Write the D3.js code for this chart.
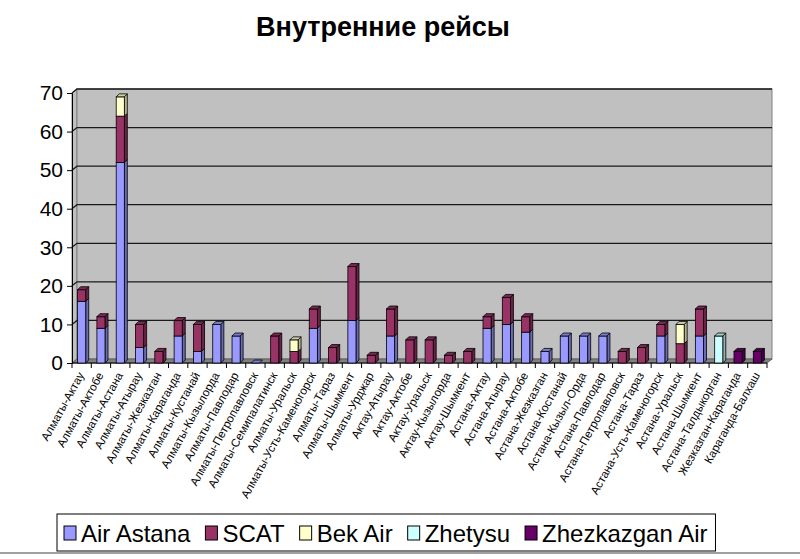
<!DOCTYPE html>
<html>
<head>
<meta charset="utf-8">
<script src="https://cdn.jsdelivr.net/npm/d3@7"></script>
<style>
  html, body { margin: 0; padding: 0; background: #fff; }
  svg { display: block; font-family: "Liberation Sans", Arial, sans-serif; }
</style>
</head>
<body>
<svg id="chart" width="800" height="559"></svg>
<script>
const title = "Внутренние рейсы";
const categories = [
  "Алматы-Актау","Алматы-Актобе","Алматы-Астана","Алматы-Атырау","Алматы-Жезказган",
  "Алматы-Караганда","Алматы-Кустанай","Алматы-Кызылорда","Алматы-Павлодар","Алматы-Петропавловск",
  "Алматы-Семипалатинск","Алматы-Уральск","Алматы-Усть-Каменогорск","Алматы-Тараз","Алматы-Шымкент",
  "Алматы-Урджар","Актау-Атырау","Актау-Актобе","Актау-Уральск","Актау-Кызылорда",
  "Актау-Шымкент","Астана-Актау","Астана-Атырау","Астана-Актобе","Астана-Жезказган",
  "Астана-Костанай","Астана-Кызыл-Орда","Астана-Павлодар","Астана-Петропавловск","Астана-Тараз",
  "Астана-Усть-Каменогорск","Астана-Уральск","Астана-Шымкент","Астана-Талдыкорган","Жезказган-Караганда",
  "Караганда-Балхаш"
];
const seriesNames = ["Air Astana","SCAT","Bek Air","Zhetysu","Zhezkazgan Air"];
const airAstana  = [16,9,52,4,0,7,3,10,7,0,0,0,9,0,11,0,7,0,0,0,0,9,10,8,3,7,7,7,0,0,7,0,7,0,0,0];
const scat       = [3,3,12,6,3,4,7,0,0,0,7,3,5,4,14,2,7,6,6,2,3,3,7,4,0,0,0,0,3,4,3,5,7,0,0,0];
const bekAir     = [0,0,5,0,0,0,0,0,0,0,0,3,0,0,0,0,0,0,0,0,0,0,0,0,0,0,0,0,0,0,0,5,0,0,0,0];
const zhetysu    = [0,0,0,0,0,0,0,0,0,0,0,0,0,0,0,0,0,0,0,0,0,0,0,0,0,0,0,0,0,0,0,0,0,7,0,0];
const zhezkazgan = [0,0,0,0,0,0,0,0,0,0,0,0,0,0,0,0,0,0,0,0,0,0,0,0,0,0,0,0,0,0,0,0,0,0,3,3];
const yTicks = [0,10,20,30,40,50,60,70];

const colors = ["#9999ff","#993366","#ffffcc","#ccffff","#660066"];
const seriesValues = [airAstana, scat, bekAir, zhetysu, zhezkazgan];

(function draw() {
const table = categories.map((c, i) => {
  const row = { cat: c };
  seriesNames.forEach((s, k) => row[s] = seriesValues[k][i]);
  return row;
});
const stacked = d3.stack().keys(seriesNames)(table);

const svg = d3.select("#chart");
const pL = 72, pR = 767, pB = 363, pT = 93;
const wdx = 5, wdy = -4;   // wall depth
const bdx = 3, bdy = -3;   // bar depth

const x = d3.scaleBand().domain(categories).range([pL, pR]).paddingInner(0.58).paddingOuter(0.29);
const y = d3.scaleLinear().domain([0, 70]).range([pB, pT]);

// title
svg.append("text").attr("x", 383).attr("y", 36).attr("text-anchor", "middle")
  .attr("font-size", 27).attr("font-weight", "bold").attr("fill", "#000").text(title);

// walls
const yTop = y(70);
svg.append("polygon")
  .attr("points", [[pL,pB],[pL,yTop],[pL+wdx,yTop+wdy],[pL+wdx,pB+wdy]].join(" "))
  .attr("fill", "#c0c0c0").attr("stroke", "#808080");
svg.append("rect").attr("x", pL+wdx).attr("y", yTop+wdy)
  .attr("width", pR - pL).attr("height", pB - yTop)
  .attr("fill", "#c0c0c0").attr("stroke", "#808080");
svg.append("polygon")
  .attr("points", [[pL,pB],[pR,pB],[pR+wdx,pB+wdy],[pL+wdx,pB+wdy]].join(" "))
  .attr("fill", "#808080").attr("stroke", "#606060");

// gridlines
yTicks.filter(t => t > 0).forEach(t => {
  svg.append("polyline")
    .attr("points", [[pL, y(t)],[pL+wdx, y(t)+wdy],[pR+wdx, y(t)+wdy]].join(" "))
    .attr("fill", "none").attr("stroke", "#1a1a1a").attr("stroke-width", 1.3);
});

// y axis
const yAxis = d3.axisLeft(y).tickValues(yTicks).tickSize(5).tickPadding(4);
const gy = svg.append("g").attr("transform", `translate(${pL},0)`).call(yAxis);
gy.select(".domain").attr("stroke", "#000");
gy.selectAll(".tick line").attr("stroke", "#000");
gy.selectAll("text").attr("font-size", 21).attr("font-family", "Liberation Sans, Arial, sans-serif").attr("fill", "#000");

// x axis line + ticks at category boundaries
svg.append("line").attr("x1", pL).attr("x2", pR).attr("y1", pB).attr("y2", pB).attr("stroke", "#000");
d3.range(categories.length + 1).forEach(i => {
  const xx = pL + i * (pR - pL) / categories.length;
  svg.append("line").attr("x1", xx).attr("x2", xx).attr("y1", pB).attr("y2", pB + 5).attr("stroke", "#000");
});

// bars
function shade(c, k) { return d3.color(c).darker(k).formatHex(); }
const bw = x.bandwidth();
stacked.forEach((layer, k) => {
  const g = svg.append("g");
  layer.forEach((d, i) => {
    if (d[1] - d[0] <= 0) return;
    const x0 = x(categories[i]);
    const yA = y(d[1]), yB = y(d[0]);
    g.append("polygon")
      .attr("points", [[x0+bw,yB],[x0+bw+bdx,yB+bdy],[x0+bw+bdx,yA+bdy],[x0+bw,yA]].join(" "))
      .attr("fill", shade(colors[k], 1.0)).attr("stroke", "#000").attr("stroke-width", 0.8);
    g.append("rect").attr("x", x0).attr("y", yA).attr("width", bw).attr("height", yB - yA)
      .attr("fill", colors[k]).attr("stroke", "#000").attr("stroke-width", 0.8);
  });
});
// top caps on each stack
categories.forEach((c, i) => {
  let total = 0, topK = 0;
  seriesValues.forEach((arr, k) => { if (arr[i] > 0) { total += arr[i]; topK = k; } });
  const x0 = x(c), yA = y(total);
  svg.append("polygon")
    .attr("points", [[x0,yA],[x0+bdx,yA+bdy],[x0+bw+bdx,yA+bdy],[x0+bw,yA]].join(" "))
    .attr("fill", shade(colors[topK], 0.6)).attr("stroke", "#000").attr("stroke-width", 0.8);
});

// x labels
categories.forEach(c => {
  const cx = x(c) + bw / 2 + 3;
  svg.append("text")
    .attr("transform", `translate(${cx},${pB + 12}) rotate(-61)`)
    .attr("text-anchor", "end").attr("font-size", 11.6).attr("fill", "#000")
    .text(c);
});

// legend
const lg = svg.append("g");
const lgBox = lg.append("rect").attr("x", 57).attr("y", 514).attr("height", 37)
  .attr("fill", "#fff").attr("stroke", "#000");
let lx = 64;
seriesNames.forEach((s, k) => {
  lg.append("rect").attr("x", lx).attr("y", 526).attr("width", 12).attr("height", 14)
    .attr("fill", colors[k]).attr("stroke", "#000");
  const t = lg.append("text").attr("x", lx + 17).attr("y", 542).attr("font-size", 24).attr("fill", "#000").text(s);
  lx += 17 + t.node().getComputedTextLength() + 15;
});
lgBox.attr("width", lx - 57 - 7);

// bottom frame line
svg.append("line").attr("x1", 0).attr("x2", 800).attr("y1", 553).attr("y2", 553).attr("stroke", "#808080").attr("stroke-width", 1.5);
})();
</script>
</body>
</html>
